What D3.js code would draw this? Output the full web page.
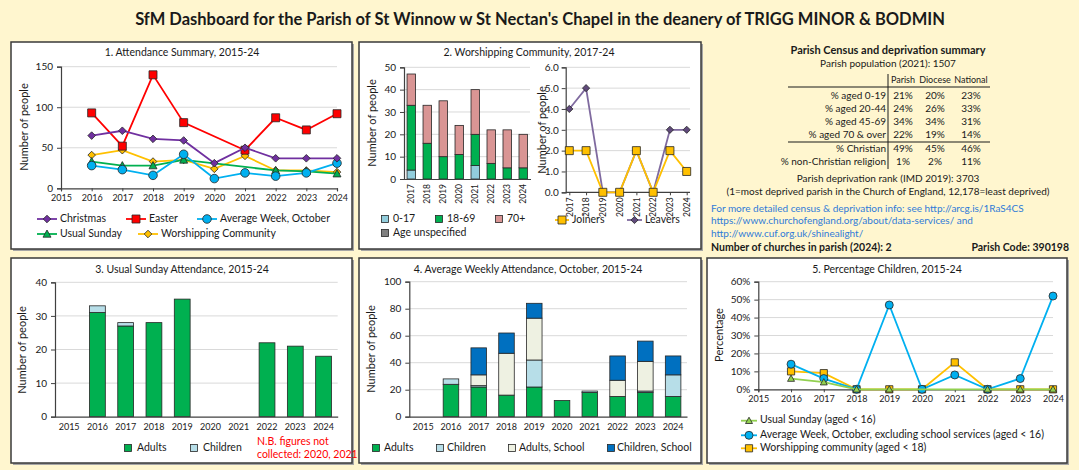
<!DOCTYPE html>
<html>
<head>
<meta charset="UTF-8">
<script src="https://cdn.jsdelivr.net/npm/d3@7"></script>
<style>
body { margin: 0; background: #FFF6CF; }
svg { display: block; font-family: Lato, "Open Sans", sans-serif; }
</style>
</head>
<body>
<svg id="chart" width="1079" height="470"></svg>
<script>
// ---- data ----
const years = [2015, 2016, 2017, 2018, 2019, 2020, 2021, 2022, 2023, 2024];

// 1. attendance summary
const christmas = [null, 65, 71, 61, 59, 31, 50, 37, 37, 37];
const easter = [null, 93, 52, 140, 81, null, 47, 87, 72, 92];
const avgWeek = [null, 28, 23, 16, 42, 12, 19, 15, 19, 31];
const usualSunday = [null, 33, 28, 28, 35, null, null, 22, 21, 18];
const worshipping = [null, 41, 47, 33, 35, 24, 40, 22, 22, 20];

// 2. worshipping community
const wcYears = [2017, 2018, 2019, 2020, 2021, 2022, 2023, 2024];
const wc0to17 = [4, 0, 0, 0, 6, 0, 0, 0];
const wc18to69 = [29, 16, 10, 11, 14, 7, 5, 5];
const wc70plus = [14, 17, 25, 13, 20, 15, 17, 15];
const wcUnspecified = [0, 0, 0, 0, 0, 0, 0, 0];
const joiners = [2, 2, 0, 0, 2, 0, 2, 1];
const leavers = [4, 5, 0, 0, 2, 0, 3, 3];

// 3. usual sunday
const usAdults = [null, 31, 27, 28, 35, null, null, 22, 21, 18];
const usChildren = [null, 2, 1, 0, 0, null, null, 0, 0, 0];

// 4. average weekly attendance
const awAdults = [null, 24, 22, 16, 22, 12, 18, 15, 18, 15];
const awChildren = [null, 4, 1, 0, 20, 0, 1, 0, 1, 16];
const awAdultsSchool = [null, 0, 8, 31, 31, 0, 0, 12, 22, 0];
const awChildrenSchool = [null, 0, 20, 15, 11, 0, 0, 18, 15, 14];

// 5. percentage children
const pcUsual = [null, 0.06, 0.04, 0, 0, null, null, 0, 0, 0];
const pcAvgWeek = [null, 0.14, 0.06, 0, 0.47, 0, 0.08, 0, 0.06, 0.52];
const pcWorshipping = [null, 0.10, 0.09, 0, 0, 0, 0.15, 0, 0, 0];

// census table
const censusRows = ['% aged 0-19', '% aged 20-44', '% aged 45-69', '% aged 70 & over', '% Christian', '% non-Christian religion'];
const censusParish = ['21%', '24%', '34%', '22%', '49%', '1%'];
const censusDiocese = ['20%', '26%', '34%', '19%', '45%', '2%'];
const censusNational = ['23%', '33%', '31%', '14%', '46%', '11%'];

const svg = d3.select('#chart');
const INK = '#1a1a1a';
const AXIS = '#404040';
const GRID = '#d9d9d9';

svg.append('rect').attr('width', 1079).attr('height', 470).attr('fill', '#FFF6CF');

function panel(x, y, w, h) {
    svg.append('rect').attr('x', x + 2).attr('y', y + 2).attr('width', w).attr('height', h).attr('fill', '#a6a6a6');
    svg.append('rect').attr('x', x).attr('y', y).attr('width', w).attr('height', h)
        .attr('fill', '#fff').attr('stroke', '#3a3a3a').attr('stroke-width', 1.5);
    return svg.append('g');
}

function text(g, x, y, s, size, anchor, opts) {
    opts = opts || {};
    return g.append('text').attr('x', x).attr('y', y).text(s)
        .attr('font-size', size).attr('text-anchor', anchor || 'start')
        .attr('dominant-baseline', 'middle')
        .attr('font-weight', opts.bold ? 'bold' : null)
        .attr('fill', opts.fill || INK);
}

function vlabel(g, x, y, s) {
    g.append('text').attr('transform', `translate(${x},${y}) rotate(-90)`)
        .attr('text-anchor', 'middle').attr('dominant-baseline', 'middle')
        .attr('font-size', 11).attr('fill', INK).text(s);
}

function markerPath(type, r) {
    if (type === 'diamond') return `M0,${-r}L${r},0L0,${r}L${-r},0Z`;
    if (type === 'square') return `M${-r},${-r}h${2 * r}v${2 * r}h${-2 * r}Z`;
    if (type === 'triangle') return `M0,${-r}L${r},${r * 0.8}L${-r},${r * 0.8}Z`;
    return d3.symbol(d3.symbolCircle, Math.PI * r * r)();
}

function series(g, xs, ys, xv, vals, color, type, fill, r, w) {
    const pts = xv.map((k, i) => ({ k: k, v: vals[i] })).filter(d => d.v != null);
    g.append('path').datum(pts)
        .attr('d', d3.line().x(d => xs(d.k)).y(d => ys(d.v)))
        .attr('fill', 'none').attr('stroke', color).attr('stroke-width', w || 1.8);
    g.selectAll(null).data(pts).join('path')
        .attr('transform', d => `translate(${xs(d.k)},${ys(d.v)})`)
        .attr('d', markerPath(type, r))
        .attr('fill', fill).attr('stroke', '#262626').attr('stroke-width', 0.8);
}

function legendLine(g, x, y, len, color, type, fill, r, s) {
    g.append('line').attr('x1', x).attr('x2', x + len).attr('y1', y).attr('y2', y)
        .attr('stroke', color).attr('stroke-width', 1.8);
    g.append('path').attr('transform', `translate(${x + len / 2},${y})`)
        .attr('d', markerPath(type, r)).attr('fill', fill)
        .attr('stroke', '#262626').attr('stroke-width', 0.8);
    text(g, x + len + 3, y, s, 10.5);
}

function swatch(g, x, y, fill, s, tx) {
    g.append('rect').attr('x', x - 3.5).attr('y', y - 3.5).attr('width', 7).attr('height', 7)
        .attr('fill', fill).attr('stroke', '#262626').attr('stroke-width', 0.8);
    text(g, tx, y, s, 10.5);
}

function grid(g, ys, ticks, x0, x1) {
    g.selectAll(null).data(ticks.filter(t => t !== 0)).join('line')
        .attr('x1', x0).attr('x2', x1).attr('y1', d => ys(d)).attr('y2', d => ys(d))
        .attr('stroke', GRID).attr('stroke-width', 1);
}

function styleAxis(a, size) {
    a.attr('font-family', null).attr('font-size', size);
    a.select('.domain').attr('stroke', AXIS).attr('stroke-width', 1.2);
    a.selectAll('.tick line').attr('stroke', AXIS);
    a.selectAll('.tick text').attr('fill', INK);
}

// ---- title ----
text(svg, 540, 21, "SfM Dashboard for the Parish of St Winnow w St Nectan's Chapel in the deanery of TRIGG MINOR & BODMIN", 16.5, 'middle', { bold: true });

// ---- panel 1 ----
{
    const g = panel(11, 42, 341, 207);
    const x = d3.scaleLinear().domain([2015, 2024]).range([61, 337]);
    const y = d3.scaleLinear().domain([0, 150]).range([188.3, 66.7]);
    const ticks = [0, 50, 100, 150];
    text(g, 182, 53, '1. Attendance Summary, 2015-24', 10.5, 'middle');
    grid(g, y, ticks, 61, 337);
    styleAxis(g.append('g').attr('transform', 'translate(61,0)')
        .call(d3.axisLeft(y).tickValues(ticks).tickSize(4).tickPadding(4)), 10);
    styleAxis(g.append('g').attr('transform', 'translate(0,188.3)')
        .call(d3.axisBottom(x).tickValues(years).tickFormat(d3.format('d')).tickSize(3).tickPadding(3)), 9);
    vlabel(g, 25, 127, 'Number of people');
    series(g, x, y, years, worshipping, '#FFC000', 'diamond', '#FFC000', 3.8);
    series(g, x, y, years, usualSunday, '#00B050', 'triangle', '#00B050', 4);
    series(g, x, y, years, avgWeek, '#00B0F0', 'circle', '#00B0F0', 4.3);
    series(g, x, y, years, easter, '#FF0000', 'square', '#FF0000', 4);
    series(g, x, y, years, christmas, '#7030A0', 'diamond', '#7030A0', 3.8);
    legendLine(g, 37, 219, 20, '#7030A0', 'diamond', '#7030A0', 3.8, 'Christmas');
    legendLine(g, 126, 219, 20, '#FF0000', 'square', '#FF0000', 4, 'Easter');
    legendLine(g, 197, 219, 20, '#00B0F0', 'circle', '#00B0F0', 4.3, 'Average Week, October');
    legendLine(g, 37, 234, 20, '#00B050', 'triangle', '#00B050', 4, 'Usual Sunday');
    legendLine(g, 138, 234, 20, '#FFC000', 'diamond', '#FFC000', 3.8, 'Worshipping Community');
}

// ---- panel 2 ----
{
    const g = panel(359, 42, 342, 207);
    text(g, 529, 53, '2. Worshipping Community, 2017-24', 10.5, 'middle');
    // stacked bars
    const x = d3.scaleBand().domain(wcYears).range([404, 530.5]).paddingInner(0.47).paddingOuter(0.19);
    const y = d3.scaleLinear().domain([0, 50]).range([179, 67.3]);
    const ticks = [0, 10, 20, 30, 40, 50];
    grid(g, y, ticks, 404, 530);
    const keys = ['a', 'b', 'c', 'd'];
    const colors = { a: '#92CDDC', b: '#00B050', c: '#D99594', d: '#808080' };
    const rows = wcYears.map((yr, i) => ({ year: yr, a: wc0to17[i], b: wc18to69[i], c: wc70plus[i], d: wcUnspecified[i] }));
    const stack = d3.stack().keys(keys)(rows);
    stack.forEach(layer => {
        g.selectAll(null).data(layer.filter(d => d[1] > d[0])).join('rect')
            .attr('x', d => x(d.data.year)).attr('width', x.bandwidth())
            .attr('y', d => y(d[1])).attr('height', d => y(d[0]) - y(d[1]))
            .attr('fill', colors[layer.key]).attr('stroke', '#262626').attr('stroke-width', 0.8);
    });
    styleAxis(g.append('g').attr('transform', 'translate(404,0)')
        .call(d3.axisLeft(y).tickValues(ticks).tickSize(4).tickPadding(4)), 10);
    const xa = g.append('g').attr('transform', 'translate(0,179)')
        .call(d3.axisBottom(x).tickSize(0).tickPadding(4));
    styleAxis(xa, 8.5);
    xa.selectAll('.tick text').attr('transform', 'rotate(-90)').attr('text-anchor', 'end')
        .attr('x', -5).attr('y', 0).attr('dy', '0.32em');
    vlabel(g, 373, 123, 'Number of people');

    // joiners / leavers
    const x2 = d3.scalePoint().domain(wcYears).range([569.3, 686.7]);
    const y2 = d3.scaleLinear().domain([0, 6]).range([192.3, 67.3]);
    const t2 = [0, 1, 2, 3, 4, 5, 6];
    grid(g, y2, t2, 565.7, 690);
    styleAxis(g.append('g').attr('transform', 'translate(565.7,0)')
        .call(d3.axisLeft(y2).tickValues(t2).tickSize(4).tickPadding(3)), 10);
    const xb = g.append('g').attr('transform', 'translate(0,192.3)')
        .call(d3.axisBottom(x2).tickSize(3).tickPadding(3));
    xb.select('.domain').attr('d', 'M565.7,0H690');
    styleAxis(xb, 8.5);
    xb.selectAll('.tick text').attr('transform', 'rotate(-90)').attr('text-anchor', 'end')
        .attr('x', -5).attr('y', 0).attr('dy', '0.32em');
    vlabel(g, 543, 130, 'Number of people');
    series(g, x2, y2, wcYears, leavers, '#7F6A9F', 'diamond', '#604A7B', 3.6);
    series(g, x2, y2, wcYears, joiners, '#FFC000', 'square', '#FFC000', 4);

    swatch(g, 385, 219, colors.a, '0-17', 393);
    swatch(g, 439, 219, colors.b, '18-69', 447);
    swatch(g, 499, 219, colors.c, '70+', 507);
    swatch(g, 385, 233, colors.d, 'Age unspecified', 393);
    legendLine(g, 555, 220, 14, '#FFC000', 'square', '#FFC000', 4, 'Joiners');
    legendLine(g, 627, 220, 15, '#7F6A9F', 'diamond', '#604A7B', 3.6, 'Leavers');
}

// ---- census summary ----
{
    const g = svg.append('g');
    text(g, 888, 51, 'Parish Census and deprivation summary', 11, 'middle', { bold: true });
    text(g, 888, 64, 'Parish population (2021): 1507', 10, 'middle');
    const cols = [903, 935, 971];
    ['Parish', 'Diocese', 'National'].forEach((h, i) => text(g, cols[i], 81, h, 9, 'middle'));
    const rowY = [96, 109, 122.3, 135.7, 149, 162.7];
    censusRows.forEach((r, i) => {
        text(g, 886, rowY[i], r, 10, 'end');
        text(g, cols[0], rowY[i], censusParish[i], 10, 'middle');
        text(g, cols[1], rowY[i], censusDiocese[i], 10, 'middle');
        text(g, cols[2], rowY[i], censusNational[i], 10, 'middle');
    });
    g.append('line').attr('x1', 888).attr('x2', 888).attr('y1', 74).attr('y2', 169).attr('stroke', INK).attr('stroke-width', 1);
    g.append('line').attr('x1', 788).attr('x2', 990).attr('y1', 87).attr('y2', 87).attr('stroke', INK).attr('stroke-width', 1.2);
    g.append('line').attr('x1', 788).attr('x2', 990).attr('y1', 142).attr('y2', 142).attr('stroke', INK).attr('stroke-width', 1.2);
    text(g, 888, 179, 'Parish deprivation rank (IMD 2019): 3703', 10, 'middle');
    text(g, 888, 192, '(1=most deprived parish in the Church of England, 12,178=least deprived)', 10, 'middle');
    const blue = '#2F7BD8';
    text(g, 711, 209, 'For more detailed census & deprivation info: see http://arcg.is/1RaS4CS', 10, 'start', { fill: blue });
    text(g, 711, 221.5, 'https://www.churchofengland.org/about/data-services/ and', 10, 'start', { fill: blue });
    text(g, 711, 234, 'http://www.cuf.org.uk/shinealight/', 10, 'start', { fill: blue });
    text(g, 711, 248, 'Number of churches in parish (2024): 2', 10.5, 'start', { bold: true });
    text(g, 1069, 248, 'Parish Code: 390198', 10.5, 'end', { bold: true });
}

// ---- panel 3 ----
{
    const g = panel(11, 258, 341, 205);
    text(g, 182, 270, '3. Usual Sunday Attendance, 2015-24', 10.5, 'middle');
    const x = d3.scaleBand().domain(years).range([55, 337.7]).paddingInner(0.44).paddingOuter(0.22);
    const y = d3.scaleLinear().domain([0, 40]).range([416.7, 282.3]);
    const ticks = [0, 10, 20, 30, 40];
    grid(g, y, ticks, 55, 337.7);
    const rows = years.map((yr, i) => ({ year: yr, a: usAdults[i] || 0, b: usChildren[i] || 0 }));
    const colors = { a: '#00B050', b: '#B7DEE8' };
    d3.stack().keys(['a', 'b'])(rows).forEach(layer => {
        g.selectAll(null).data(layer.filter(d => d[1] > d[0])).join('rect')
            .attr('x', d => x(d.data.year)).attr('width', x.bandwidth())
            .attr('y', d => y(d[1])).attr('height', d => y(d[0]) - y(d[1]))
            .attr('fill', colors[layer.key]).attr('stroke', '#262626').attr('stroke-width', 0.8);
    });
    styleAxis(g.append('g').attr('transform', 'translate(55,0)')
        .call(d3.axisLeft(y).tickValues(ticks).tickSize(4).tickPadding(4)), 10);
    styleAxis(g.append('g').attr('transform', 'translate(0,416.7)')
        .call(d3.axisBottom(x).tickSize(0).tickPadding(7)), 9);
    vlabel(g, 23, 350, 'Number of people');
    swatch(g, 128, 448, colors.a, 'Adults', 137);
    swatch(g, 194, 448, colors.b, 'Children', 203);
    text(g, 257, 442, 'N.B. figures not', 10.5, 'start', { fill: '#FF0000' });
    text(g, 257, 455, 'collected: 2020, 2021', 10.5, 'start', { fill: '#FF0000' });
}

// ---- panel 4 ----
{
    const g = panel(359, 258, 342, 205);
    text(g, 528, 270, '4. Average Weekly Attendance, October, 2015-24', 10.5, 'middle');
    const x = d3.scaleBand().domain(years).range([409.3, 687]).paddingInner(0.44).paddingOuter(0.22);
    const y = d3.scaleLinear().domain([0, 100]).range([416.7, 281.7]);
    const ticks = [0, 20, 40, 60, 80, 100];
    grid(g, y, ticks, 409.3, 687);
    const rows = years.map((yr, i) => ({
        year: yr, a: awAdults[i] || 0, b: awChildren[i] || 0,
        c: awAdultsSchool[i] || 0, d: awChildrenSchool[i] || 0
    }));
    const colors = { a: '#00B050', b: '#B7DEE8', c: '#EEF1E2', d: '#0070C0' };
    d3.stack().keys(['a', 'b', 'c', 'd'])(rows).forEach(layer => {
        g.selectAll(null).data(layer.filter(d => d[1] > d[0])).join('rect')
            .attr('x', d => x(d.data.year)).attr('width', x.bandwidth())
            .attr('y', d => y(d[1])).attr('height', d => y(d[0]) - y(d[1]))
            .attr('fill', colors[layer.key]).attr('stroke', '#262626').attr('stroke-width', 0.8);
    });
    styleAxis(g.append('g').attr('transform', 'translate(409.3,0)')
        .call(d3.axisLeft(y).tickValues(ticks).tickSize(4).tickPadding(4)), 10);
    styleAxis(g.append('g').attr('transform', 'translate(0,416.7)')
        .call(d3.axisBottom(x).tickSize(0).tickPadding(7)), 9);
    vlabel(g, 372, 349, 'Number of people');
    swatch(g, 376, 448, colors.a, 'Adults', 384);
    swatch(g, 440, 448, colors.b, 'Children', 447);
    swatch(g, 512, 448, colors.c, 'Adults, School', 519);
    swatch(g, 611, 448, colors.d, 'Children, School', 617);
}

// ---- panel 5 ----
{
    const g = panel(707, 258, 360, 205);
    text(g, 887, 270, '5. Percentage Children, 2015-24', 10.5, 'middle');
    const x = d3.scaleLinear().domain([2015, 2024]).range([758.3, 1053]);
    const y = d3.scaleLinear().domain([0, 0.6]).range([389.3, 281.7]);
    const ticks = [0, 0.1, 0.2, 0.3, 0.4, 0.5, 0.6];
    grid(g, y, ticks, 758.3, 1053);
    styleAxis(g.append('g').attr('transform', 'translate(758.3,0)')
        .call(d3.axisLeft(y).tickValues(ticks).tickFormat(d3.format('.0%')).tickSize(4).tickPadding(4)), 10);
    styleAxis(g.append('g').attr('transform', 'translate(0,389.3)')
        .call(d3.axisBottom(x).tickValues(years).tickFormat(d3.format('d')).tickSize(3).tickPadding(3)), 9);
    vlabel(g, 720, 335, 'Percentage');
    series(g, x, y, years, pcWorshipping, '#FFC000', 'square', '#FFC000', 3.6);
    series(g, x, y, years, pcAvgWeek, '#00B0F0', 'circle', '#00B0F0', 4);
    series(g, x, y, years, pcUsual, '#92D050', 'triangle', '#92D050', 3.5);
    legendLine(g, 741, 420.7, 16, '#92D050', 'triangle', '#92D050', 3.5, 'Usual Sunday (aged < 16)');
    legendLine(g, 741, 435.3, 16, '#00B0F0', 'circle', '#00B0F0', 4, 'Average Week, October, excluding school services (aged < 16)');
    legendLine(g, 741, 448.3, 16, '#FFC000', 'square', '#FFC000', 3.6, 'Worshipping community (aged < 18)');
}
</script>
</body>
</html>
